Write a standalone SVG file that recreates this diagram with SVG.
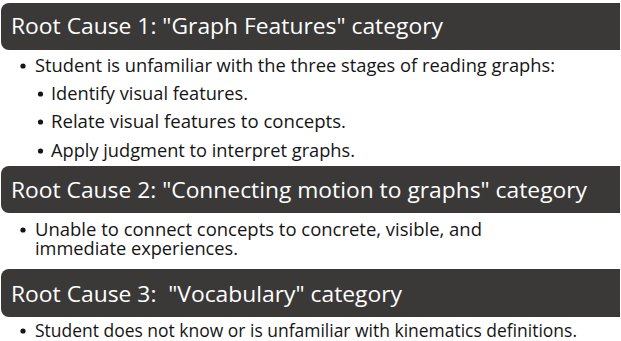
<svg xmlns="http://www.w3.org/2000/svg" width="621" height="341" viewBox="0 0 621 341">
<style>
.bar{fill:#3a3937}
.title{font-family:"Open Sans","Noto Sans","Liberation Sans",sans-serif;font-size:22.5px;fill:#ffffff}
.body{font-family:"Open Sans","Noto Sans","Liberation Sans",sans-serif;font-size:17.5px;fill:#151515}
.dot{fill:#151515}
</style>
<rect width="621" height="341" fill="#ffffff"/>
<g id="cause1">
<path class="bar" d="M9,3 H620 V50 H9 A8,8 0 0 1 1,42 V11 A8,8 0 0 1 9,3 Z"/>
<text class="title" x="11" y="34" textLength="432" lengthAdjust="spacingAndGlyphs">Root Cause 1: "Graph Features" category</text>
<circle class="dot" cx="23" cy="66" r="2.6"/>
<text class="body" x="35" y="72" textLength="520" lengthAdjust="spacingAndGlyphs">Student is unfamiliar with the three stages of reading graphs:</text>
<circle class="dot" cx="40.5" cy="94" r="2.6"/>
<text class="body" x="51" y="100" textLength="197" lengthAdjust="spacingAndGlyphs">Identify visual features.</text>
<circle class="dot" cx="40.5" cy="122" r="2.6"/>
<text class="body" x="51" y="128" textLength="295" lengthAdjust="spacingAndGlyphs">Relate visual features to concepts.</text>
<circle class="dot" cx="40.5" cy="151" r="2.6"/>
<text class="body" x="51" y="157" textLength="304" lengthAdjust="spacingAndGlyphs">Apply judgment to interpret graphs.</text>
</g>
<g id="cause2">
<path class="bar" d="M9,166 H620 V213 H9 A8,8 0 0 1 1,205 V174 A8,8 0 0 1 9,166 Z"/>
<text class="title" x="11" y="198" textLength="576" lengthAdjust="spacingAndGlyphs">Root Cause 2: "Connecting motion to graphs" category</text>
<circle class="dot" cx="23" cy="230" r="2.6"/>
<text class="body" x="35" y="236" textLength="447" lengthAdjust="spacingAndGlyphs">Unable to connect concepts to concrete, visible, and</text>
<text class="body" x="35" y="255" textLength="203" lengthAdjust="spacingAndGlyphs">immediate experiences.</text>
</g>
<g id="cause3">
<path class="bar" d="M9,269 H620 V317 H9 A8,8 0 0 1 1,309 V277 A8,8 0 0 1 9,269 Z"/>
<text class="title" x="11" y="302" textLength="391" lengthAdjust="spacingAndGlyphs" xml:space="preserve">Root Cause 3:  "Vocabulary" category</text>
<circle class="dot" cx="23" cy="331" r="2.6"/>
<text class="body" x="35" y="337" textLength="542" lengthAdjust="spacingAndGlyphs">Student does not know or is unfamiliar with kinematics definitions.</text>
</g>
<g id="connectors"/>
</svg>
